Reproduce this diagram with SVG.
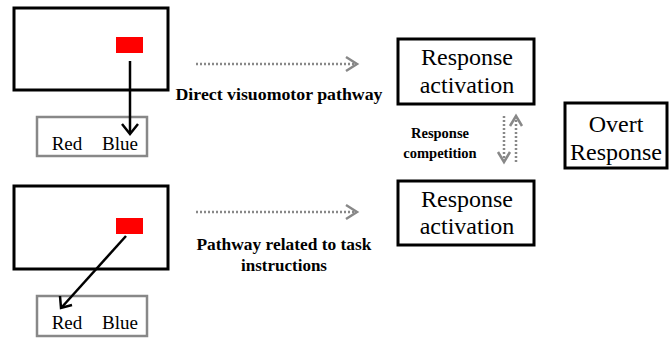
<svg xmlns="http://www.w3.org/2000/svg" width="669" height="341" viewBox="0 0 669 341">
<style>
.scr{fill:#fff;stroke:#000;stroke-width:3}
.opt{fill:#fff;stroke:#888;stroke-width:2.5}
.box{fill:#fff;stroke:#000;stroke-width:3}
.red{fill:#f00;stroke:none}
.t{font-family:'Liberation Serif','Tinos','Times New Roman','DejaVu Serif',serif;fill:#000;text-anchor:middle}
.big{font-size:24px}
.opt-t{font-size:19px}
.lab{font-size:17px;font-weight:bold}
.sm{font-size:14.5px;font-weight:bold}
.solid{stroke:#000;stroke-width:2.5;fill:none}
.dot{stroke:#888;stroke-width:2.5;fill:none;stroke-dasharray:2 2}
.head{stroke:#888;stroke-width:2.5;fill:none}
.bhead{stroke:#000;stroke-width:2.5;fill:none}
</style>
<rect width="669" height="341" fill="#fff"/>
<g id="screen-top">
<rect class="scr" x="14" y="8" width="154" height="82"/>
<rect class="red" x="116" y="37" width="27" height="16"/>
</g>
<g id="options-top">
<rect class="opt" x="37" y="117" width="110" height="39"/>
<text class="t opt-t" x="67" y="150">Red</text>
<text class="t opt-t" x="120" y="150">Blue</text>
</g>
<g id="screen-bottom">
<rect class="scr" x="14" y="186" width="154" height="83"/>
<rect class="red" x="116" y="218" width="27" height="16"/>
</g>
<g id="options-bottom">
<rect class="opt" x="37" y="296" width="110" height="40"/>
<text class="t opt-t" x="67" y="329">Red</text>
<text class="t opt-t" x="120" y="329">Blue</text>
</g>
<g id="resp-top">
<rect class="box" x="398" y="39" width="136" height="65"/>
<text class="t big" x="467" y="65">Response</text>
<text class="t big" x="467" y="93">activation</text>
</g>
<g id="resp-bottom">
<rect class="box" x="398" y="181" width="136" height="64"/>
<text class="t big" x="467" y="207">Response</text>
<text class="t big" x="467" y="234">activation</text>
</g>
<g id="overt">
<rect class="box" x="565" y="103" width="102" height="65"/>
<text class="t big" x="616" y="132">Overt</text>
<text class="t big" x="616" y="160">Response</text>
</g>
<g id="labels">
<text class="t lab" x="279" y="100" textLength="207" lengthAdjust="spacingAndGlyphs">Direct visuomotor pathway</text>
<text class="t lab" x="284" y="250" textLength="175" lengthAdjust="spacingAndGlyphs">Pathway related to task</text>
<text class="t lab" x="284" y="271">instructions</text>
<text class="t sm" x="440" y="138">Response</text>
<text class="t sm" x="440" y="158">competition</text>
</g>
<g id="connectors">
<line class="solid" x1="130" y1="61" x2="130" y2="133"/>
<polyline class="bhead" points="122,124 130,134 138,124"/>
<line class="solid" x1="126" y1="236" x2="62" y2="307"/>
<polyline class="bhead" points="60,296 61,308 72,305"/>
<line class="dot" x1="196" y1="64" x2="356" y2="64"/>
<polyline class="head" points="346,57 357,64 346,71"/>
<line class="dot" x1="196" y1="212" x2="356" y2="212"/>
<polyline class="head" points="346,205 357,212 346,219"/>
<line class="dot" x1="504" y1="116" x2="504" y2="161"/>
<polyline class="head" points="498,152 504,162 510,152"/>
<line class="dot" x1="516" y1="162" x2="516" y2="117"/>
<polyline class="head" points="510,126 516,116 522,126"/>
</g>
</svg>
